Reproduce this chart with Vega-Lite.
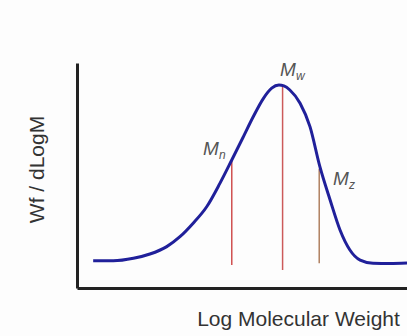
{
  "$schema": "https://vega.github.io/schema/vega-lite/v6.json",
  "width": 330,
  "height": 225,
  "autosize": {"type": "none"},
  "padding": {"left": 77, "top": 63, "right": 0, "bottom": 48},
  "background": "#fdfdfd",
  "config": {
    "view": {"stroke": null},
    "font": "Liberation Sans",
    "axis": {"grid": false, "ticks": false, "labels": false, "domainColor": "#222222", "domainWidth": 3}
  },
  "datasets": {
    "curve": [
      {"logM": 0.49, "w": 0.121}, {"logM": 1.10, "w": 0.121}, {"logM": 1.71, "w": 0.132},
      {"logM": 2.21, "w": 0.151}, {"logM": 2.72, "w": 0.184}, {"logM": 3.12, "w": 0.228},
      {"logM": 3.52, "w": 0.288}, {"logM": 3.93, "w": 0.361}, {"logM": 4.33, "w": 0.465},
      {"logM": 4.69, "w": 0.569}, {"logM": 5.04, "w": 0.672}, {"logM": 5.34, "w": 0.761},
      {"logM": 5.65, "w": 0.843}, {"logM": 5.90, "w": 0.888}, {"logM": 6.12, "w": 0.902},
      {"logM": 6.27, "w": 0.898}, {"logM": 6.45, "w": 0.880}, {"logM": 6.76, "w": 0.821},
      {"logM": 7.06, "w": 0.717}, {"logM": 7.36, "w": 0.539}, {"logM": 7.67, "w": 0.391},
      {"logM": 7.97, "w": 0.258}, {"logM": 8.27, "w": 0.169}, {"logM": 8.58, "w": 0.124},
      {"logM": 8.97, "w": 0.110}, {"logM": 9.48, "w": 0.109}, {"logM": 10.0, "w": 0.111}
    ],
    "moments": [
      {"name": "Mn", "main": "M", "sub": "n", "logM": 4.69, "top": 0.569, "bottom": 0.102, "lx": 3.82, "ly": 0.591},
      {"name": "Mw", "main": "M", "sub": "w", "logM": 6.23, "top": 0.900, "bottom": 0.080, "lx": 6.15, "ly": 0.942},
      {"name": "Mz", "main": "M", "sub": "z", "logM": 7.34, "top": 0.530, "bottom": 0.110, "lx": 7.76, "ly": 0.458}
    ]
  },
  "layer": [
    {
      "data": {"name": "moments"},
      "mark": {"type": "rule", "strokeWidth": 1.5},
      "encoding": {
        "x": {"field": "logM", "type": "quantitative", "scale": {"domain": [0, 10]}, "axis": {"title": "Log Molecular Weight", "titleFontSize": 21, "titleFontWeight": "normal", "titleColor": "#333333", "titleX": 221, "titleY": 37, "titleAlign": "center", "titleBaseline": "alphabetic"}},
        "y": {"field": "top", "type": "quantitative", "scale": {"domain": [0, 1]}, "axis": {"title": "Wf / dLogM", "titleFontSize": 21, "titleFontWeight": "normal", "titleColor": "#333333", "titleX": -40, "titleY": 106, "titleAngle": -90, "titleAlign": "center", "titleBaseline": "middle"}},
        "y2": {"field": "bottom"},
        "color": {"field": "name", "type": "nominal", "scale": {"domain": ["Mn", "Mw", "Mz"], "range": ["#d05050", "#cc5a5a", "#b08060"]}, "legend": null}
      }
    },
    {
      "data": {"name": "curve"},
      "mark": {"type": "line", "interpolate": "monotone", "strokeWidth": 3, "color": "#20209a"},
      "encoding": {
        "x": {"field": "logM", "type": "quantitative"},
        "y": {"field": "w", "type": "quantitative"}
      }
    },
    {
      "data": {"name": "moments"},
      "mark": {"type": "text", "fontSize": 19, "fontStyle": "italic", "color": "#555555", "align": "left", "baseline": "alphabetic"},
      "encoding": {
        "x": {"field": "lx", "type": "quantitative"},
        "y": {"field": "ly", "type": "quantitative"},
        "text": {"field": "main"}
      }
    },
    {
      "data": {"name": "moments"},
      "mark": {"type": "text", "fontSize": 12, "fontStyle": "italic", "color": "#555555", "align": "left", "baseline": "alphabetic", "dx": 16, "dy": 4},
      "encoding": {
        "x": {"field": "lx", "type": "quantitative"},
        "y": {"field": "ly", "type": "quantitative"},
        "text": {"field": "sub"}
      }
    }
  ]
}
